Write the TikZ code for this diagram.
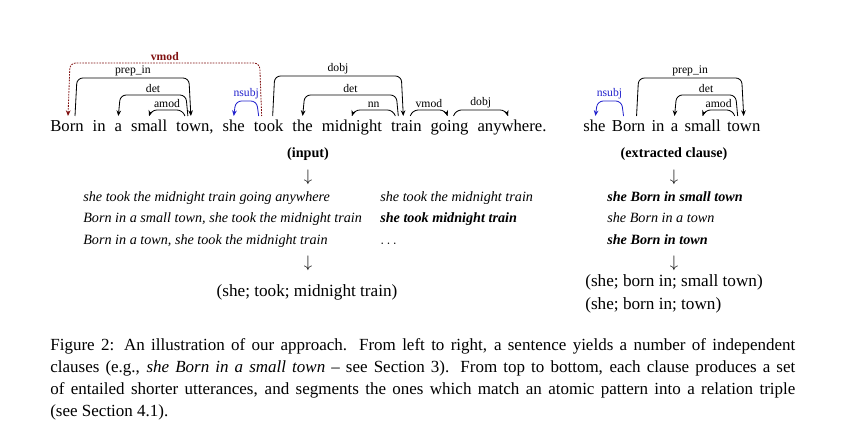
\documentclass[tikz,border=0pt]{standalone}
\usepackage{fontspec}
\setmainfont{Liberation Serif}
\usepackage{tikz}
\usetikzlibrary{positioning,calc,arrows.meta}

\definecolor{vmodred}{RGB}{128,16,16}
\definecolor{subjblue}{RGB}{35,35,205}

\tikzset{
  word/.style={font=\fontsize{10}{12}\selectfont, inner sep=0pt},
  arcline/.style={line width=0.5pt, rounded corners=3.5pt, >={Stealth[length=3.4pt,width=2.8pt]}},
  arclabel/.style={font=\fontsize{7}{8}\selectfont, above, inner sep=1pt},
  utter/.style={font=\fontsize{8.5}{10}\selectfont\itshape, inner sep=0pt, anchor=base west},
  headline/.style={font=\fontsize{8.5}{10}\selectfont\bfseries, inner sep=0pt, anchor=base},
  triple/.style={font=\fontsize{10.3}{12}\selectfont, inner sep=0pt},
  down/.style={inner sep=0pt},
}

% [style] left word, dx, right word, dx, top y, label
\newcommand{\deparc}[7][]{%
  \coordinate (l) at ($(#2.base)+(#3,-16)$);
  \coordinate (r) at ($(#4.base)+(#5,-16)$);
  \coordinate (t) at (0,#6);
  \draw[arcline,#1] (l) -- ($(l |- t)+(2,0)$) -- node[arclabel]{#7} ($(r |- t)+(-2,0)$) -- (r);
}

\begin{document}
\begin{tikzpicture}[x=0.6pt,y=-0.6pt]

\useasboundingbox (0,0) rectangle (841,433);

% input sentence
\node[word, anchor=base west] (born) at (50,132) {Born};
\node[word, base right=5pt of born] (in) {in};
\node[word, base right=5pt of in] (a) {a};
\node[word, base right=5pt of a] (small) {small};
\node[word, base right=5pt of small] (town) {town,};
\node[word, base right=5pt of town] (she) {she};
\node[word, base right=5pt of she] (took) {took};
\node[word, base right=5pt of took] (the) {the};
\node[word, base right=5pt of the] (midnight) {midnight};
\node[word, base right=5pt of midnight] (train) {train};
\node[word, base right=5pt of train] (going) {going};
\node[word, base right=5pt of going] (anywhere) {anywhere.};

\deparc[<-, vmodred, dash pattern=on 1pt off 0.7pt]{born}{1}{took}{-7}{63}{\textbf{vmod}}
\deparc[->]{born}{8}{town}{-4}{78}{prep\_in}
\deparc[<-]{a}{0}{town}{-7}{95}{det}
\deparc[<-]{small}{0}{town}{-10}{110}{amod}
\deparc[<-, subjblue]{she}{0}{took}{-10}{101}{nsubj}
\deparc[->]{took}{4}{train}{-3}{76}{dobj}
\deparc[<-]{the}{0}{train}{-8}{95}{det}
\deparc[<-]{midnight}{0}{train}{-11}{110}{nn}
\deparc[->]{train}{4}{going}{-2}{110}{vmod}
\deparc[->]{going}{4}{anywhere}{-4}{110}{dobj}

% extracted clause
\node[word, anchor=base west] (rshe) at (583,132) {she};
\node[word, base right=3.4pt of rshe] (rborn) {Born};
\node[word, base right=3.4pt of rborn] (rin) {in};
\node[word, base right=3.4pt of rin] (ra) {a};
\node[word, base right=3.4pt of ra] (rsmall) {small};
\node[word, base right=3.4pt of rsmall] (rtown) {town};

\deparc[<-, subjblue]{rshe}{1}{rborn}{-5}{101}{nsubj}
\deparc[->]{rborn}{8}{rtown}{0}{78}{prep\_in}
\deparc[<-]{ra}{0}{rtown}{-6}{95}{det}
\deparc[<-]{rsmall}{0}{rtown}{-9}{110}{amod}

% left column
\node[headline] (input) at (308,158) {(input)};
\node[down] (arrin) at (308,177) {$\downarrow$};
\node[utter] (u1) at (83,202) {she took the midnight train going anywhere};
\node[utter] (u2) at (83,223) {Born in a small town, she took the midnight train};
\node[utter] (u3) at (83,244.5) {Born in a town, she took the midnight train};
\node[utter] (v1) at (380,202) {she took the midnight train};
\node[utter] (v2) at (380,223) {\bfseries she took midnight train};
\node[utter] (v3) at (380,244.5) {\upshape$\ldots$};
\node[down] (arrout) at (308,263) {$\downarrow$};
\node[triple, anchor=base] (trip) at (307,297) {(she; took; midnight train)};

% right column
\node[headline] (clause) at (674,157.5) {(extracted clause)};
\node[down] (arrcl) at (674,177) {$\downarrow$};
\node[utter] (w1) at (607,202) {\bfseries she Born in small town};
\node[utter] (w2) at (607,223) {she Born in a town};
\node[utter] (w3) at (607,244.5) {\bfseries she Born in town};
\node[down] (arrtr) at (674,263) {$\downarrow$};
\node[triple, anchor=base west] (tripa) at (585,286.5) {(she; born in; small town)};
\node[triple, anchor=base west] (tripb) at (585,309) {(she; born in; town)};

% caption
\node[anchor=north west, inner sep=0pt, text width=447pt, align=justify,
      font=\fontsize{10.2}{13.2}\selectfont] (caption) at (50,338)
  {Figure 2: An illustration of our approach. From left to right, a sentence yields a number of independent\linebreak
   clauses (e.g., \textit{she Born in a small town} -- see Section 3). From top to bottom, each clause produces a set\linebreak
   of entailed shorter utterances, and segments the ones which match an atomic pattern into a relation triple\linebreak
   (see Section 4.1).};

\end{tikzpicture}
\end{document}
